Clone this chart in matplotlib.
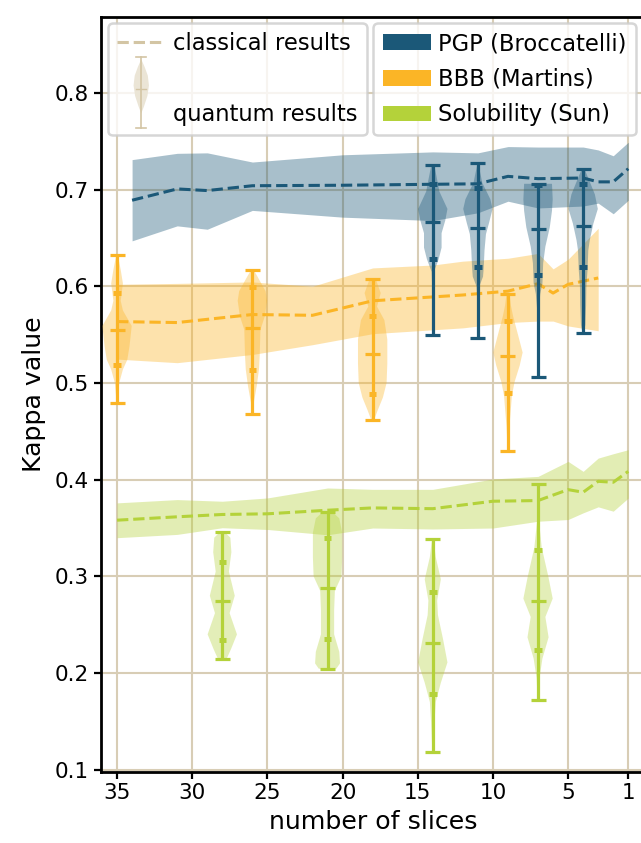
import numpy as np
import matplotlib
matplotlib.use("Agg")
import matplotlib.pyplot as plt
from matplotlib.legend_handler import HandlerBase
from matplotlib.patches import Patch, Polygon
from matplotlib.lines import Line2D

# ---------------- data ----------------
series_names = ["PGP (Broccatelli)", "BBB (Martins)", "Solubility (Sun)"]
series_colors = ["#1b5878", "#fbb526", "#b4d23a"]

# classical results (mean and spread band)
pgp_x = [34, 31, 29, 26, 20, 14, 11, 9, 7, 4, 3, 2, 1]
pgp_mean = [0.689, 0.7007, 0.699, 0.704, 0.7045, 0.7055, 0.706, 0.7137, 0.7113, 0.712, 0.708, 0.708, 0.7216]
pgp_upper = [0.731, 0.7375, 0.738, 0.7285, 0.736, 0.739, 0.738, 0.7445, 0.744, 0.744, 0.741, 0.735, 0.749]
pgp_lower = [0.647, 0.6625, 0.659, 0.6785, 0.6715, 0.668, 0.676, 0.688, 0.681, 0.683, 0.686, 0.675, 0.689]

bbb_x = [35, 31, 26, 22, 18, 14, 12, 9, 7, 6, 5, 3]
bbb_mean = [0.5635, 0.5625, 0.5708, 0.570, 0.585, 0.589, 0.591, 0.595, 0.6027, 0.593, 0.602, 0.6086]
bbb_upper = [0.602, 0.603, 0.6045, 0.600, 0.619, 0.622, 0.626, 0.629, 0.634, 0.618, 0.628, 0.660]
bbb_lower = [0.5247, 0.521, 0.5295, 0.5396, 0.551, 0.555, 0.557, 0.5625, 0.564, 0.564, 0.559, 0.554]

sol_x = [35, 31, 28, 25, 21, 18, 14, 10, 7, 5, 4, 3, 2, 1]
sol_mean = [0.3581, 0.3616, 0.364, 0.3647, 0.3684, 0.3708, 0.370, 0.3777, 0.3784, 0.3897, 0.387, 0.3983, 0.3973, 0.4086]
sol_upper = [0.376, 0.3794, 0.3777, 0.3811, 0.3914, 0.390, 0.390, 0.4007, 0.4034, 0.4189, 0.4086, 0.4223, 0.4268, 0.431]
sol_lower = [0.340, 0.3434, 0.3503, 0.3485, 0.343, 0.350, 0.349, 0.350, 0.357, 0.3588, 0.3657, 0.3719, 0.3674, 0.381]

# quantum results: positions and summary statistics
pgp_q_pos = [14, 11, 7, 4]
pgp_q_min = [0.5492, 0.547, 0.5064, 0.552]
pgp_q_q1 = [0.6285, 0.6203, 0.6119, 0.6197]
pgp_q_med = [0.6668, 0.6603, 0.659, 0.6624]
pgp_q_q3 = [0.7058, 0.7017, 0.705, 0.7058]
pgp_q_max = [0.7254, 0.727, 0.706, 0.721]

bbb_q_pos = [35, 26, 18, 9]
bbb_q_min = [0.479, 0.4684, 0.4619, 0.430]
bbb_q_q1 = [0.5182, 0.513, 0.489, 0.4897]
bbb_q_med = [0.5553, 0.5564, 0.5296, 0.5274]
bbb_q_q3 = [0.5928, 0.5993, 0.569, 0.564]
bbb_q_max = [0.6326, 0.6165, 0.608, 0.592]

sol_q_pos = [28, 21, 14, 7]
sol_q_min = [0.2148, 0.2045, 0.1187, 0.172]
sol_q_q1 = [0.2343, 0.2353, 0.178, 0.2237]
sol_q_med = [0.2745, 0.288, 0.2309, 0.275]
sol_q_q3 = [0.315, 0.340, 0.2837, 0.327]
sol_q_max = [0.346, 0.367, 0.339, 0.396]

# violin density profiles (kappa value, relative density)
pgp_prof_y = [
    [0.7254, 0.71, 0.698, 0.68, 0.668, 0.655, 0.64, 0.628, 0.615, 0.59, 0.5492],
    [0.727, 0.707, 0.69, 0.68, 0.665, 0.654, 0.637, 0.62, 0.61, 0.60, 0.58, 0.547],
    [0.706, 0.69, 0.678, 0.661, 0.641, 0.624, 0.603, 0.592, 0.57, 0.5064],
    [0.721, 0.71, 0.695, 0.68, 0.665, 0.6475, 0.637, 0.617, 0.60, 0.58, 0.56, 0.552],
]
pgp_prof_d = [
    [0.1, 0.3, 0.45, 1.0, 0.85, 0.6, 0.6, 0.4, 0.08, 0.02, 0.01],
    [0.03, 0.3, 0.85, 1.0, 0.75, 0.55, 0.45, 0.4, 0.35, 0.1, 0.02, 0.01],
    [0.95, 1.0, 0.95, 0.8, 0.5, 0.35, 0.3, 0.15, 0.03, 0.01],
    [0.1, 0.4, 0.8, 1.0, 0.7, 0.45, 0.35, 0.3, 0.22, 0.2, 0.15, 0.05],
]
bbb_prof_y = [
    [0.6326, 0.617, 0.603, 0.585, 0.575, 0.559, 0.538, 0.524, 0.514, 0.50, 0.479],
    [0.6165, 0.610, 0.595, 0.585, 0.569, 0.555, 0.528, 0.514, 0.497, 0.48, 0.4684],
    [0.608, 0.593, 0.579, 0.565, 0.545, 0.52, 0.50, 0.485, 0.472, 0.4619],
    [0.592, 0.58, 0.569, 0.549, 0.5315, 0.518, 0.501, 0.487, 0.47, 0.455, 0.43],
]
bbb_prof_d = [
    [0.05, 0.25, 0.4, 0.25, 0.4, 1.0, 0.85, 0.7, 0.4, 0.15, 0.02],
    [0.1, 0.35, 0.9, 1.0, 0.85, 0.55, 0.5, 0.45, 0.3, 0.1, 0.03],
    [0.2, 0.55, 0.3, 0.8, 1.0, 1.0, 0.95, 0.7, 0.35, 0.1],
    [0.1, 0.2, 0.35, 0.7, 1.0, 0.8, 0.45, 0.27, 0.18, 0.1, 0.02],
]
sol_prof_y = [
    [0.346, 0.340, 0.325, 0.305, 0.28, 0.262, 0.240, 0.225, 0.2148],
    [0.367, 0.360, 0.345, 0.320, 0.300, 0.285, 0.265, 0.240, 0.222, 0.210, 0.2045],
    [0.339, 0.32, 0.297, 0.275, 0.26, 0.235, 0.211, 0.19, 0.17, 0.15, 0.1187],
    [0.396, 0.36, 0.33, 0.30, 0.277, 0.258, 0.237, 0.215, 0.195, 0.172],
]
sol_prof_d = [
    [0.15, 0.55, 0.62, 0.45, 0.85, 0.5, 1.0, 0.6, 0.3],
    [0.3, 0.8, 1.0, 1.0, 0.95, 0.5, 0.45, 0.45, 0.8, 0.85, 0.6],
    [0.05, 0.2, 0.55, 0.3, 0.35, 0.7, 1.0, 0.55, 0.2, 0.12, 0.03],
    [0.02, 0.05, 0.25, 0.7, 1.0, 0.5, 0.72, 0.3, 0.1, 0.02],
]

x_ticks = [35, 30, 25, 20, 15, 10, 5, 1]
y_ticks = [0.1, 0.2, 0.3, 0.4, 0.5, 0.6, 0.7, 0.8]
legend_left_labels = ["classical results", "", "quantum results"]

# ---------------- figure ----------------
plt.rcParams["font.family"] = ["DejaVu Sans"]
fig = plt.figure(figsize=(6.41, 8.43), dpi=100)
ax = fig.add_axes([0.1568, 0.0846, 0.851, 0.8958])

grid_color = "#d8cdb5"
ax.set_axisbelow(True)
ax.grid(True, color=grid_color, linewidth=1.5)

classical = [
    (pgp_x, pgp_mean, pgp_upper, pgp_lower),
    (bbb_x, bbb_mean, bbb_upper, bbb_lower),
    (sol_x, sol_mean, sol_upper, sol_lower),
]
quantum = [
    (pgp_q_pos, pgp_q_min, pgp_q_q1, pgp_q_med, pgp_q_q3, pgp_q_max, pgp_prof_y, pgp_prof_d),
    (bbb_q_pos, bbb_q_min, bbb_q_q1, bbb_q_med, bbb_q_q3, bbb_q_max, bbb_prof_y, bbb_prof_d),
    (sol_q_pos, sol_q_min, sol_q_q1, sol_q_med, sol_q_q3, sol_q_max, sol_prof_y, sol_prof_d),
]

for (xs, mean, up, lo), col in zip(classical, series_colors):
    ax.fill_between(xs, lo, up, color=col, alpha=0.38, linewidth=0, zorder=1)
    ax.plot(xs, mean, color=col, linestyle="--", linewidth=2.2, zorder=2)

for (pos, mn, q1, med, q3, mx, py, pd_), col in zip(quantum, series_colors):
    vpstats = []
    for i in range(len(pos)):
        vpstats.append({
            "coords": py[i], "vals": pd_[i],
            "mean": med[i], "median": med[i], "min": mn[i], "max": mx[i],
        })
    parts = ax.violin(vpstats, positions=pos, widths=1.95,
                      showmeans=False, showextrema=False, showmedians=False)
    for b in parts["bodies"]:
        b.set_facecolor(col)
        b.set_edgecolor("none")
        b.set_alpha(0.36)
        b.set_zorder(3)
    pos = np.array(pos, dtype=float)
    ax.vlines(pos, mn, mx, color=col, linewidth=2.3, zorder=4)
    ax.hlines(mn, pos - 0.5, pos + 0.5, color=col, linewidth=2.3, zorder=4)
    ax.hlines(mx, pos - 0.5, pos + 0.5, color=col, linewidth=2.3, zorder=4)
    ax.hlines(med, pos - 0.5, pos + 0.5, color=col, linewidth=2.3, zorder=4)
    ax.hlines(q1, pos - 0.25, pos + 0.25, color=col, linewidth=3.6, zorder=4)
    ax.hlines(q3, pos - 0.25, pos + 0.25, color=col, linewidth=3.6, zorder=4)

ax.set_xlim(36.1, -0.18)
ax.set_ylim(0.098, 0.879)
ax.set_xticks(x_ticks)
ax.set_xticklabels([str(t) for t in x_ticks])
ax.set_yticks(y_ticks)
ax.set_yticklabels([f"{t:.1f}" for t in y_ticks])
ax.tick_params(labelsize=15.5, width=1.6, length=5, color="black")
for s in ax.spines.values():
    s.set_linewidth(2)
    s.set_color("black")
ax.set_xlabel("number of slices", fontsize=18.2, labelpad=5)
ax.set_ylabel("Kappa value", fontsize=18.2, labelpad=6)


# ---------------- legends ----------------
class ViolinHandler(HandlerBase):
    def create_artists(self, legend, orig_handle, xdescent, ydescent,
                       width, height, fontsize, trans):
        fs = fontsize
        cx = width / 2 - xdescent
        c = -ydescent + height / 2
        yb = c - 0.62 * fs
        yt = c + 2.48 * fs
        h = yt - yb
        rel = [(0.2, 0.0), (0.3, 0.35), (0.45, 0.8), (0.6, 1.0), (0.74, 0.85),
               (0.86, 0.45), (0.96, 0.05)]
        right = [(cx + w * fs * 0.34, yb + t * h) for t, w in rel]
        left = [(cx - w * fs * 0.34, yb + t * h) for t, w in reversed(rel)]
        body = Polygon(right + left, closed=True, facecolor="#ebe5d6",
                       edgecolor="none", transform=trans)
        lc = "#d3c5a4"
        cw = 0.22 * fs
        ym = yb + 0.555 * h
        return [body,
                Line2D([cx, cx], [yb, yt], color=lc, lw=1.2, transform=trans),
                Line2D([cx - cw, cx + cw], [yb, yb], color=lc, lw=1.2, transform=trans),
                Line2D([cx - cw, cx + cw], [yt, yt], color=lc, lw=1.2, transform=trans),
                Line2D([cx - cw, cx + cw], [ym, ym], color=lc, lw=1.0, transform=trans)]


class VioProxy:
    pass


h_classical = Line2D([], [], color="#d3c5a4", linestyle="--", linewidth=2.2)
h_blank = Line2D([], [], color="none")
h_quantum = VioProxy()

leg_kw = dict(fontsize=16.3, frameon=True, framealpha=0.8, edgecolor="#cccccc",
              borderaxespad=0.0, handlelength=2.14, handletextpad=0.33,
              labelspacing=0.56, fancybox=True)
leg1 = ax.legend([h_classical, h_blank, h_quantum], legend_left_labels,
                 loc="upper left", bbox_to_anchor=(0.0137, 0.9914),
                 handler_map={VioProxy: ViolinHandler()}, **leg_kw)
leg1.get_frame().set_linewidth(1.8)
ax.add_artist(leg1)

patches = [Patch(facecolor=c, edgecolor="none") for c in series_colors]
leg2 = ax.legend(patches, series_names, loc="upper right",
                 bbox_to_anchor=(0.9817, 0.9914), **leg_kw)
leg2.get_frame().set_linewidth(1.8)

fig.savefig("out.png", dpi=100)
